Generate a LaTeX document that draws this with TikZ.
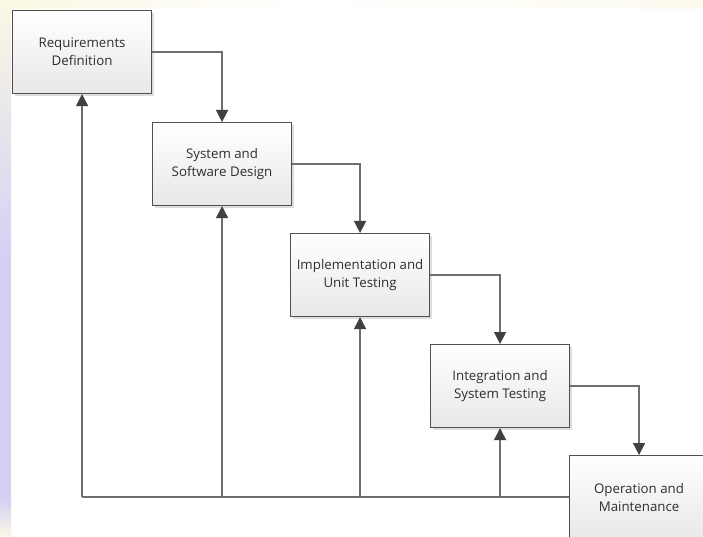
\documentclass[tikz,border=0pt]{standalone}
\usepackage{fontspec}
\setmainfont{Open Sans}
\usetikzlibrary{arrows.meta,shadows}
\definecolor{boxline}{HTML}{505050}
\definecolor{conn}{HTML}{6E6E6E}
\definecolor{arrowc}{HTML}{404040}
\definecolor{lav}{HTML}{D4D0F4}
\definecolor{yel}{HTML}{FBF8E4}
\tikzset{
  phase/.style={draw=boxline, line width=1.1pt, top color=white, bottom color=black!9,
    minimum width=139pt, minimum height=83pt, anchor=north west, align=center,
    font=\fontsize{13.3}{18}\selectfont, text=black!82,
    drop shadow={shadow xshift=2pt, shadow yshift=-2pt, fill=black!25, opacity=0.5}},
  conn/.style={draw=conn, line width=1.5pt},
  arr/.style={conn, -{Triangle[width=12pt,length=12pt,color=arrowc]}}
}
\begin{document}
\begin{tikzpicture}[x=1pt,y=-1pt]
\useasboundingbox (0,0) rectangle (703,537);
\clip (0,0) rectangle (703,537);
% faint background tints
\fill[white] (0,0) rectangle (703,537);
\shade[top color=yel, bottom color=lav] (0,0) rectangle (11,260);
\fill[lav] (0,259) rectangle (11,500);
\shade[top color=lav, bottom color=yel] (0,499) rectangle (11,537);
\shade[left color=yel, right color=white] (11,0) rectangle (300,9);
\shade[left color=white, right color=yel!60] (300,0) rectangle (703,9);
% boxes
\node[phase] (b1) at (12,10) {Requirements\\Definition};
\node[phase] (b2) at (152,122) {System and\\Software Design};
\node[phase] (b3) at (290,233) {Implementation and\\Unit Testing};
\node[phase] (b4) at (430,344) {Integration and\\System Testing};
\node[phase] (b5) at (569,455) {Operation and\\Maintenance};
% forward connectors
\draw[arr] (b1.east) -| (b2.north);
\draw[arr] (b2.east) -| (b3.north);
\draw[arr] (b3.east) -| (b4.north);
\draw[arr] (b4.east) -| (b5.north);
% feedback
\coordinate (c1) at (b5.west -| b1.south);
\coordinate (c2) at (b5.west -| b2.south);
\coordinate (c3) at (b5.west -| b3.south);
\coordinate (c4) at (b5.west -| b4.south);
\draw[conn] (b5.west) -- (c1);
\draw[arr] (c1) -- (b1.south);
\draw[arr] (c2) -- (b2.south);
\draw[arr] (c3) -- (b3.south);
\draw[arr] (c4) -- (b4.south);
\end{tikzpicture}
\end{document}
